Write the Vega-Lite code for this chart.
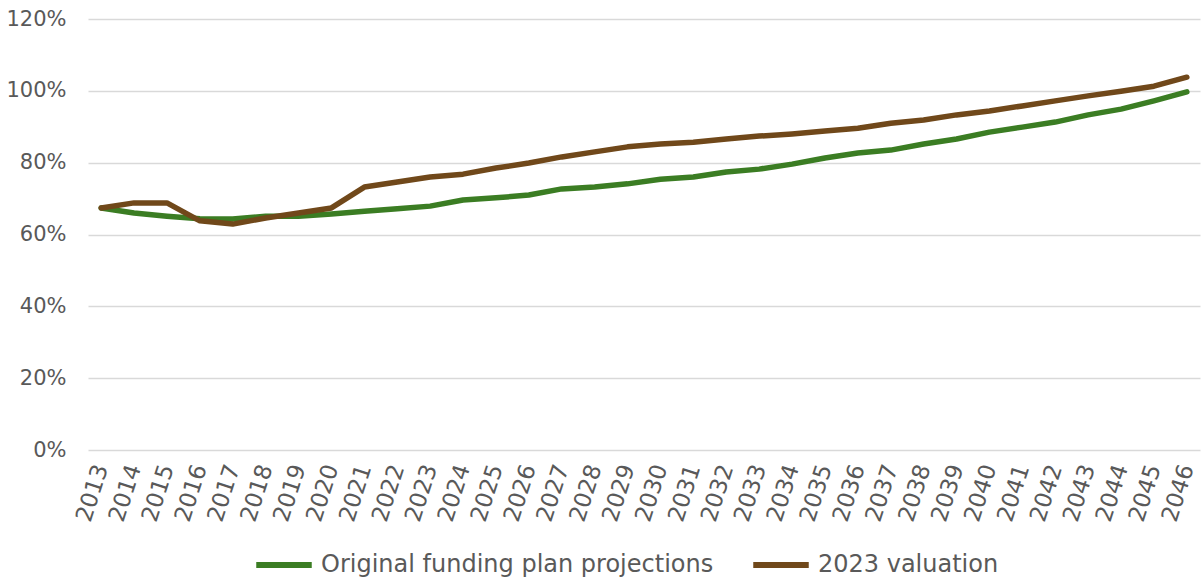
{
  "$schema": "https://vega.github.io/schema/vega-lite/v6.json",
  "width": 1112,
  "height": 431,
  "autosize": {"type": "none"},
  "padding": {"left": 88, "top": 19, "right": 2, "bottom": 127},
  "background": "white",
  "config": {"view": {"stroke": null}},
  "datasets": {
    "orig": [
      {"year": "2013", "v": 67.4}, {"year": "2014", "v": 66.0}, {"year": "2015", "v": 65.1},
      {"year": "2016", "v": 64.4}, {"year": "2017", "v": 64.3}, {"year": "2018", "v": 65.1},
      {"year": "2019", "v": 65.1}, {"year": "2020", "v": 65.7}, {"year": "2021", "v": 66.5},
      {"year": "2022", "v": 67.2}, {"year": "2023", "v": 67.9}, {"year": "2024", "v": 69.6},
      {"year": "2025", "v": 70.2}, {"year": "2026", "v": 71.0}, {"year": "2027", "v": 72.7},
      {"year": "2028", "v": 73.2}, {"year": "2029", "v": 74.1}, {"year": "2030", "v": 75.4},
      {"year": "2031", "v": 76.0}, {"year": "2032", "v": 77.4}, {"year": "2033", "v": 78.2},
      {"year": "2034", "v": 79.6}, {"year": "2035", "v": 81.3}, {"year": "2036", "v": 82.7},
      {"year": "2037", "v": 83.5}, {"year": "2038", "v": 85.2}, {"year": "2039", "v": 86.6},
      {"year": "2040", "v": 88.5}, {"year": "2041", "v": 89.9}, {"year": "2042", "v": 91.3},
      {"year": "2043", "v": 93.3}, {"year": "2044", "v": 94.9}, {"year": "2045", "v": 97.2},
      {"year": "2046", "v": 99.7}
    ],
    "val": [
      {"year": "2013", "v": 67.4}, {"year": "2014", "v": 68.8}, {"year": "2015", "v": 68.8},
      {"year": "2016", "v": 63.8}, {"year": "2017", "v": 62.9}, {"year": "2018", "v": 64.6},
      {"year": "2019", "v": 66.0}, {"year": "2020", "v": 67.4}, {"year": "2021", "v": 73.2},
      {"year": "2022", "v": 74.6}, {"year": "2023", "v": 76.0}, {"year": "2024", "v": 76.8},
      {"year": "2025", "v": 78.5}, {"year": "2026", "v": 79.9}, {"year": "2027", "v": 81.6},
      {"year": "2028", "v": 83.0}, {"year": "2029", "v": 84.4}, {"year": "2030", "v": 85.2},
      {"year": "2031", "v": 85.7}, {"year": "2032", "v": 86.6}, {"year": "2033", "v": 87.4},
      {"year": "2034", "v": 88.0}, {"year": "2035", "v": 88.8}, {"year": "2036", "v": 89.6},
      {"year": "2037", "v": 91.0}, {"year": "2038", "v": 91.9}, {"year": "2039", "v": 93.3},
      {"year": "2040", "v": 94.4}, {"year": "2041", "v": 95.8}, {"year": "2042", "v": 97.2},
      {"year": "2043", "v": 98.6}, {"year": "2044", "v": 99.9}, {"year": "2045", "v": 101.3},
      {"year": "2046", "v": 103.8}
    ]
  },
  "layer": [
    {
      "data": {"name": "orig"},
      "transform": [{"calculate": "'Original funding plan projections'", "as": "series"}],
      "mark": {"type": "line", "strokeWidth": 5.5, "strokeCap": "round", "strokeJoin": "round"},
      "encoding": {
        "x": {"field": "year", "type": "ordinal"},
        "y": {"field": "v", "type": "quantitative"},
        "color": {"field": "series", "type": "nominal"}
      }
    },
    {
      "data": {"name": "val"},
      "transform": [{"calculate": "'2023 valuation'", "as": "series"}],
      "mark": {"type": "line", "strokeWidth": 5.5, "strokeCap": "round", "strokeJoin": "round"},
      "encoding": {
        "x": {"field": "year", "type": "ordinal"},
        "y": {"field": "v", "type": "quantitative"},
        "color": {"field": "series", "type": "nominal"}
      }
    }
  ],
  "encoding": {
    "x": {
      "field": "year", "type": "ordinal", "title": null,
      "scale": {"type": "point", "padding": 0.4},
      "axis": {
        "domain": false, "ticks": false, "grid": false,
        "labelAngle": -72, "labelFont": "DejaVu Sans", "labelFontSize": 23,
        "labelColor": "#595959", "labelPadding": 15, "labelOverlap": false
      }
    },
    "y": {
      "field": "v", "type": "quantitative", "title": null,
      "scale": {"domain": [0, 120], "nice": false},
      "axis": {
        "values": [0, 20, 40, 60, 80, 100, 120],
        "labelExpr": "datum.value + '%'",
        "domain": false, "ticks": false, "grid": true,
        "gridColor": "#d9d9d9", "gridWidth": 1.5,
        "labelFont": "DejaVu Sans", "labelFontSize": 21,
        "labelColor": "#595959", "labelPadding": 22
      }
    },
    "color": {
      "field": "series", "type": "nominal",
      "scale": {
        "domain": ["Original funding plan projections", "2023 valuation"],
        "range": ["#3b7d23", "#70481a"]
      },
      "legend": {
        "title": null, "orient": "none", "direction": "horizontal",
        "legendX": 165, "legendY": 515,
        "symbolType": "stroke", "symbolSize": 3080, "symbolStrokeWidth": 6,
        "labelFont": "DejaVu Sans", "labelFontSize": 24, "labelLimit": 0,
        "labelColor": "#595959", "labelOffset": 6, "columnPadding": 27
      }
    }
  }
}
